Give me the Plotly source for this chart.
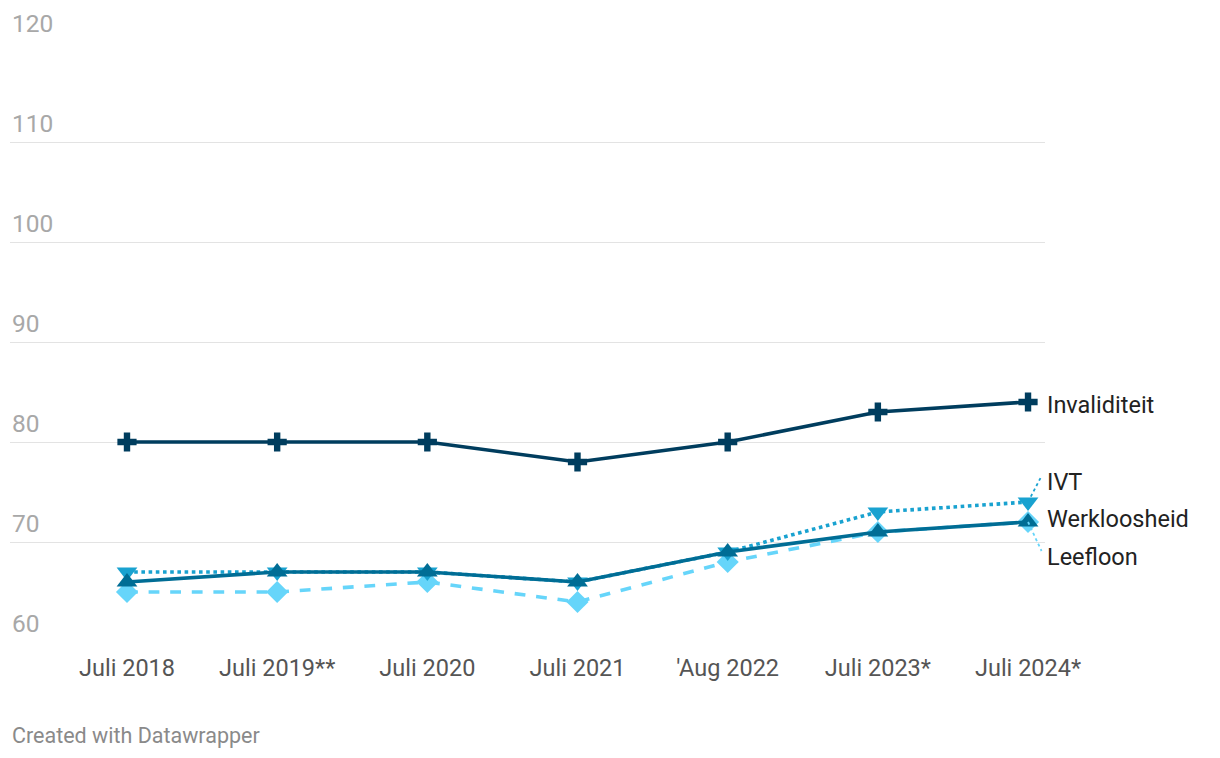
import plotly.graph_objects as go

categories = ["Juli 2018", "Juli 2019**", "Juli 2020", "Juli 2021", "'Aug 2022", "Juli 2023*", "Juli 2024*"]
invaliditeit = [80, 80, 80, 78, 80, 83, 84]
ivt = [67, 67, 67, 66, 69, 73, 74]
werkloosheid = [66, 67, 67, 66, 69, 71, 72]
leefloon = [65, 65, 66, 64, 68, 71, 72]
y_ticks = [60, 70, 80, 90, 100, 110, 120]

x = list(range(len(categories)))
C_INV = "#003d5e"
C_WERK = "#006d95"
C_IVT = "#19a2d0"
C_LEEF = "#66d5fa"

fig = go.Figure()
fig.add_trace(go.Scatter(x=x, y=leefloon, mode="lines+markers", name="Leefloon",
                         line=dict(color=C_LEEF, width=3.6, dash="dash"),
                         marker=dict(symbol="diamond", size=17, color=C_LEEF)))
fig.add_trace(go.Scatter(x=x, y=ivt, mode="lines+markers", name="IVT",
                         line=dict(color=C_IVT, width=3.6, dash="dot"),
                         marker=dict(symbol="triangle-down", size=18, color=C_IVT)))
fig.add_trace(go.Scatter(x=x, y=werkloosheid, mode="lines+markers", name="Werkloosheid",
                         line=dict(color=C_WERK, width=3.6),
                         marker=dict(symbol="triangle-up", size=18, color=C_WERK)))
fig.add_trace(go.Scatter(x=x, y=invaliditeit, mode="lines+markers", name="Invaliditeit",
                         line=dict(color=C_INV, width=3.6),
                         marker=dict(symbol="cross", size=16, color=C_INV)))

last = len(x) - 1
labels = [("Invaliditeit", invaliditeit[-1], -0.3, C_INV),
          ("IVT", ivt[-1], 2.0, C_IVT),
          ("Werkloosheid", werkloosheid[-1], 0.3, C_WERK),
          ("Leefloon", leefloon[-1], -3.5, C_LEEF)]
for text, val, off, col in labels:
    fig.add_annotation(x=1, y=val + off, xref="paper", yref="y", text=text, showarrow=False,
                       xanchor="left", yanchor="middle", xshift=0,
                       font=dict(family="Roboto", size=23.5, color="#222222"))
    if abs(off) > 1:
        fig.add_shape(type="line", x0=last, y0=val, x1=last + 0.09, y1=val + off + 0.6,
                      xref="x", yref="y", line=dict(color=col, width=1.8, dash="dot"))

for t in y_ticks:
    fig.add_annotation(x=0, y=t, xref="paper", yref="y", text=str(t), showarrow=False,
                       xanchor="left", yanchor="bottom", yshift=2,
                       font=dict(family="Roboto", size=24.5, color="#a8a8a8"))

fig.add_annotation(x=0, y=0, xref="paper", yref="paper", text="Created with Datawrapper",
                   showarrow=False, xanchor="left", yanchor="middle", yshift=-93,
                   font=dict(family="Roboto", size=21.5, color="#8a8a8a"))

fig.update_layout(
    width=1212, height=750,
    margin=dict(l=2, r=175, t=34, b=116),
    paper_bgcolor="white", plot_bgcolor="white",
    showlegend=False,
    font=dict(family="Roboto"),
    xaxis=dict(range=[-0.779, 6.113], tickmode="array", tickvals=x, ticktext=categories,
               showgrid=False, zeroline=False, showline=False,
               tickfont=dict(family="Roboto", size=23.5, color="#555555"),
               ticks="", ticklabelstandoff=9),
    yaxis=dict(range=[60, 120], tickvals=y_ticks, showticklabels=False,
               showgrid=True, gridcolor="#e3e3e3", gridwidth=1.3, zeroline=False, showline=False),
)

fig.write_html("out.html")
